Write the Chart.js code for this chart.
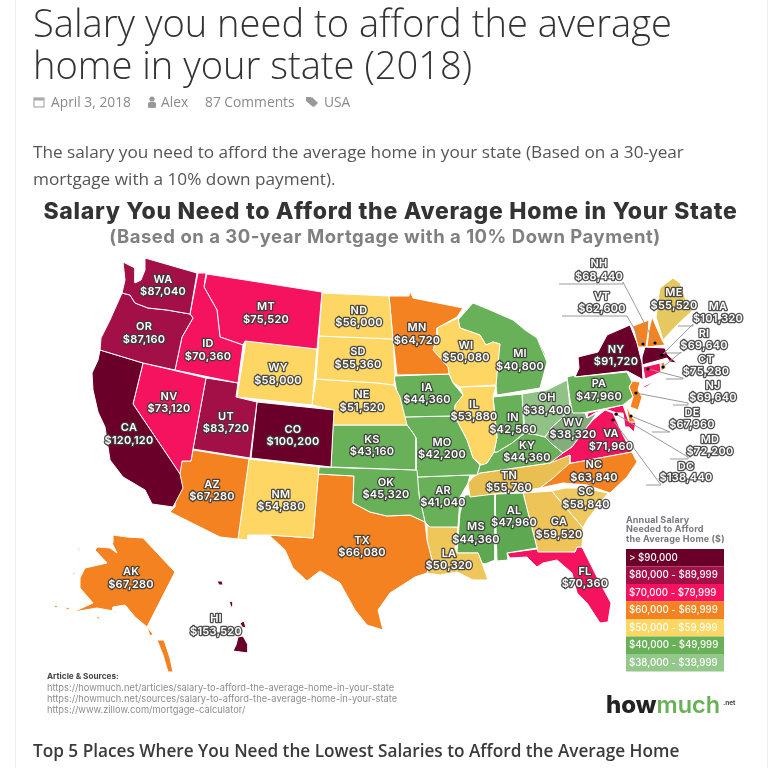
<!DOCTYPE html>
<html>
<head>
<meta charset="utf-8">
<title>Salary you need to afford the average home in your state (2018)</title>
<script src="https://cdn.jsdelivr.net/npm/chart.js@4"></script>
<style>
  html, body { margin: 0; background: #fff; }
  #page { position: relative; width: 782px; height: 768px; overflow: hidden; font-family: "Open Sans", sans-serif; }
  #page::before { content: ""; position: absolute; left: 15px; right: 14px; top: 0; bottom: 0; border-left: 1px solid #f0f0f0; border-right: 1px solid #f0f0f0; }
  canvas { position: absolute; left: 0; top: 0; }
  .txt { position: absolute; white-space: nowrap; }
  h1 { margin: 0; left: 33px; top: 1px; font-weight: 300; font-size: 38.1px; line-height: 42px; color: #333; }
  .meta { top: 93px; font-size: 13.8px; line-height: 18px; color: #8a8a8a; }
  .icon { top: 96px; }
  #intro { left: 33px; top: 138px; font-size: 17.2px; line-height: 27px; color: #555; }
  h2 { margin: 0; left: 33px; top: 739px; font-weight: 600; font-size: 17.2px; line-height: 24px; color: #3a3a3a; }
</style>
</head>
<body>
<div id="page">
  <canvas id="map" width="782" height="768"></canvas>
  <h1 class="txt">Salary you need to afford the average<br>home in your state (2018)</h1>
  <svg class="txt icon" style="left:33px" width="12" height="12" viewBox="0 0 12 12"><rect x="1" y="2" width="10" height="9" fill="none" stroke="#aaa" stroke-width="1.2"/><rect x="1" y="2" width="10" height="2.5" fill="#aaa"/></svg>
  <span class="txt meta" style="left:51px">April 3, 2018</span>
  <svg class="txt icon" style="left:146px" width="12" height="12" viewBox="0 0 12 12"><circle cx="6" cy="3" r="2.6" fill="#999"/><rect x="2" y="6" width="8" height="6" rx="1.5" fill="#999"/></svg>
  <span class="txt meta" style="left:161px">Alex</span>
  <span class="txt meta" style="left:205px">87 Comments</span>
  <svg class="txt icon" style="left:305px" width="15" height="12" viewBox="0 0 15 12"><path d="M1 1h5l6 6-4 4-7-6z M7 1l6 6-4 4" fill="#999"/></svg>
  <span class="txt meta" style="left:324px">USA</span>
  <div id="intro" class="txt">The salary you need to afford the average home in your state (Based on a 30-year<br>mortgage with a 10% down payment).</div>
  <h2 class="txt">Top 5 Places Where You Need the Lowest Salaries to Afford the Average Home</h2>
</div>
<script>
// salary, same order as the state codes
const stateCodes = ['WA','OR','CA','NV','ID','MT','WY','UT','CO','AZ','NM','ND','SD','NE','KS','OK','TX','MN','IA','MO','AR','LA','WI','IL','MI','IN','OH','KY','TN','MS','AL','GA','SC','NC','VA','WV','PA','NY','FL','AK','HI','ME','NH','VT','MA','RI','CT','NJ','DE','MD','DC'];
const salaries = [87040,87160,120120,73120,70360,75520,58000,83720,100200,67280,54880,56000,55360,51520,43160,45320,66080,64720,44360,42200,41040,50320,50080,53880,40800,42560,38400,44360,55760,44360,47960,59520,58840,63840,71960,38320,47960,91720,70360,67280,153520,55520,68440,62600,101320,69640,75280,69640,67960,72200,138440];

// legend buckets
const bucketLabels = ['> $90,000','$80,000 - $89,999','$70,000 - $79,999','$60,000 - $69,999','$50,000 - $59,999','$40,000 - $49,999','$38,000 - $39,999'];
const bucketFloors = [90000,80000,70000,60000,50000,40000,38000];
const bucketColors = ['#6a0029','#a30f47','#f5125f','#f58220','#fdd663','#68b158','#93c88a'];

// relief makes some states look a bit darker than their bucket
const reliefTints = { ME:'#e6c860', GA:'#eec458', SC:'#eec95f', TN:'#eabf52', LA:'#eec65a', WV:'#83ad7a', OH:'#8fc284', MS:'#5fa852', AL:'#5fa852' };

// state outlines in map units [x, y, x, y, ...]
const outlines = {
  WA:[[145,258,197,273,190,314,167,310,148,308,135,303,130,295,122,293,125,280,123,262,135,268,135,283,141,280,145,270]],
  OR:[[122,293,130,295,135,303,148,308,167,310,190,314,193,318,182,337,175,370,143,363,100,350,101,338,110,320]],
  CA:[[100,350,143,363,133,404,180,474,183,488,173,507,152,504,145,490,123,477,110,460,105,427,98,412,93,390,92,373,98,360]],
  NV:[[143,363,206,378,193,449,191,461,182,461,180,474,133,404]],
  ID:[[198,273,206,273,204,287,217,310,220,337,243,345,238,383,175,370,182,337,193,318,190,314]],
  MT:[[207,274,322,292,317,349,245,341,243,345,220,337,217,310,204,287]],
  WY:[[246,341,317,349,312,405,237,397]],
  UT:[[206,378,238,383,236,397,257,402,250,458,193,449]],
  CO:[[257,402,334,410,331,467,251,458]],
  AZ:[[193,450,249,459,238,539,220,537,170,512,175,507,176,490,182,461,191,461]],
  NM:[[249,459,319,467,313,538,269,535,248,535,248,540,238,539]],
  ND:[[322,293,389,296,393,339,319,336]],
  SD:[[319,336,393,339,395,375,394,385,378,383,316,379]],
  NE:[[316,379,378,383,394,385,400,397,407,425,333,425,334,410,312,405]],
  KS:[[333,425,407,425,413,433,416,438,416,470,331,467]],
  OK:[[319,467,417,470,419,495,425,522,410,515,387,516,370,512,353,503,354,476,318,474]],
  TX:[[318,474,354,476,353,503,370,512,387,516,410,515,425,522,427,540,432,560,427,573,415,577,390,593,378,610,383,630,367,625,355,610,340,583,320,571,307,581,293,568,285,550,269,535,313,538]],
  MN:[[389,296,409,296,410,291,413,298,433,302,463,308,457,317,437,328,437,338,433,350,448,367,449,374,397,375,393,339]],
  IA:[[394,376,449,374,453,383,463,395,455,405,454,413,450,416,403,417,398,398]],
  MO:[[403,417,450,416,455,417,467,440,473,458,480,465,477,475,470,475,418,477,416,470,416,438,413,433,407,425]],
  AR:[[417,477,470,475,468,483,460,497,458,527,430,527,425,522,419,495]],
  LA:[[427,526,458,527,455,547,457,553,478,553,482,563,488,580,473,580,457,572,440,575,427,573,432,560,427,540]],
  WI:[[437,328,458,318,460,328,480,335,486,345,493,342,500,344,496,385,460,387,453,383,449,374,448,367,433,350,437,338]],
  IL:[[460,387,496,386,493,397,497,437,494,452,487,463,482,465,473,458,467,440,455,417,454,413,455,405,463,395]],
  MI:[[458,320,473,303,490,310,513,320,525,330,537,338,547,362,540,388,497,395,496,385,497,352,500,344,493,342,486,345,480,335,460,328]],
  IN:[[493,397,522,394,524,433,512,443,497,452,494,452,497,437]],
  OH:[[522,394,540,391,547,390,567,380,570,407,562,418,552,427,545,437,538,435,525,433]],
  KY:[[480,465,487,463,494,452,497,452,512,443,525,433,538,435,545,437,553,445,563,453,550,463,480,473,477,475]],
  TN:[[473,477,480,473,550,463,570,455,570,463,553,478,540,488,527,490,470,497,468,483]],
  MS:[[465,495,495,494,495,560,485,564,482,563,478,553,457,553,460,513]],
  AL:[[495,494,523,493,537,548,507,553,508,560,497,561]],
  GA:[[523,493,552,491,555,495,583,528,582,547,577,547,575,552,538,552]],
  SC:[[552,491,565,488,583,488,608,493,587,520,583,528,555,495]],
  NC:[[567,464,632,452,637,462,627,477,610,493,587,485,563,483,540,488,553,478]],
  VA:[[547,463,563,453,572,447,587,427,593,420,605,410,613,413,623,435,632,452,567,464]],
  WV:[[570,407,573,413,585,413,587,418,597,413,587,427,572,447,563,453,553,445,545,437,552,427,562,418]],
  PA:[[567,377,575,375,575,377,627,372,632,382,629,387,633,397,623,405,573,415,570,400]],
  NY:[[578,357,598,352,607,335,630,325,637,343,642,363,643,380,640,378,627,371,575,377,579,368],[642,387,655,381,646,387]],
  FL:[[507,553,537,549,575,552,577,547,582,547,597,577,611,603,608,622,600,623,587,603,577,593,572,573,557,560,543,563,537,567,527,557,510,558]],
  AK:[[113,535,127,537,143,538,175,572,147,627,135,617,125,605,113,607,113,612,125,613,108,610,97,608,73,612,93,603,80,588,80,578,85,568,107,563,95,550,98,547,110,548,117,553,112,543],[147,627,153,634,150,636],[157,640,164,640,170,658,173,672,168,672,163,655],[77,546,80,550,79,552],[72,572,75,573,74,575],[53,605,58,606,56,608],[64,607,70,608,68,610],[95,616,102,618,98,619]],
  HI:[[217,581,222,581,223,585,219,585],[229,601,233,602,233,607,231,607],[240,623,244,621,246,628,242,627],[238,637,243,636,248,645,248,653,233,651,236,645]],
  ME:[[658,300,660,288,673,278,680,283,687,303,693,310,677,325,663,340,656,317]],
  NH:[[652,317,662,340,665,345,647,347,649,330]],
  VT:[[633,326,649,320,648,333,646,347,638,347]],
  MA:[[642,357,645,347,665,348,668,355,677,363,670,362,667,358,642,365]],
  RI:[[661,363,664,362,666,368,661,371]],
  CT:[[643,367,660,363,661,372,645,379]],
  NJ:[[632,381,640,382,638,390,642,397,638,410,630,407,633,397,629,387]],
  DE:[[626,405,632,417,636,422,629,422]],
  MD:[[588,413,623,405,629,422,636,422,634,432,629,427,625,427,623,413,617,413,605,409,595,413,587,418]],
  DC:[[615,412,619,412,619,416,615,416]]
};

// darker relief areas: colour, outline
const shadeColors = ['#4f9a48','#d9b55a','#d96f18'];
const shadeParts = [
  [458,320,473,303,490,310,513,320,525,330,537,338,545,355,525,345,510,340,500,344,493,342,486,345,480,335,460,328],
  [489,346,500,344,496,385,488,385,492,365],
  [540,488,553,478,567,464,585,461,565,475]
];

// centre of each label, y of first line, y of second line
const labelSpots = {
  WA:[163,280,292],OR:[144,327,340],CA:[129,428,441],NV:[169,397,409],ID:[208,344,357],MT:[266,307,320],WY:[278,368,381],UT:[226,417,429],CO:[293,430,442],AZ:[212,485,497],NM:[281,495,507],ND:[359,311,323],SD:[358,352,365],NE:[362,395,408],KS:[372,440,452],OK:[386,483,495],TX:[362,541,553],MN:[417,328,341],IA:[427,388,400],MO:[442,443,455],AR:[443,491,503],LA:[449,554,566],WI:[466,346,358],IL:[474,405,417],MI:[520,354,367],IN:[513,418,430],OH:[547,398,411],KY:[527,446,458],TN:[509,476,488],MS:[476,527,540],AL:[514,511,523],GA:[559,522,535],SC:[586,492,505],NC:[594,465,478],VA:[611,434,447],WV:[573,423,435],PA:[599,384,397],NY:[616,350,362],FL:[585,572,584],AK:[131,572,585],HI:[216,619,632],ME:[674,293,306],
  NH:[599,264,277],VT:[602,297,309],MA:[718,307,319],RI:[704,334,346],CT:[706,360,372],NJ:[713,386,398],DE:[692,413,425],MD:[710,440,452],DC:[686,467,478]
};

// callout leaders for the small states: start x, y, end x, y
const leaders = {
  NH:[623,282,648,330,655,343],VT:[627,316,643,344],MA:[693,324,662,355],RI:[681,352,663,367],CT:[683,378,648,369],NJ:[688,403,636,393],DE:[670,432,631,416],MD:[688,457,616,414],DC:[661,485,613,420]
};

const sourceLines = ['https://howmuch.net/articles/salary-to-afford-the-average-home-in-your-state','https://howmuch.net/sources/salary-to-afford-the-average-home-in-your-state','https://www.zillow.com/mortgage-calculator/'];
const legendTitle = ['Annual Salary','Needed to Afford','the Average Home ($)'];

function colorFor(salary) {
  const i = bucketFloors.findIndex(f => salary >= f);
  return bucketColors[i];
}
function toPoints(flat) {
  const pts = [];
  for (let i = 0; i < flat.length; i += 2) pts.push({ x: flat[i], y: flat[i + 1] });
  pts.push({ x: flat[0], y: flat[1] }); // close it
  return pts;
}

// one filled line dataset per state piece
const datasets = [];
function addShape(label, part, color, border) {
  datasets.push({
    label,
    data: toPoints(part),
    showLine: true,
    fill: 'shape',
    backgroundColor: color,
    borderColor: border,
    borderWidth: 1,
    pointRadius: 0,
    tension: 0,
    clip: false
  });
}
stateCodes.forEach((code, i) => {
  outlines[code].forEach(part => addShape(code, part, reliefTints[code] || colorFor(salaries[i]), '#fff'));
});
shadeParts.forEach((part, i) => addShape('relief', part, shadeColors[i], 'transparent'));

function money(v) { return '$' + v.toLocaleString('en-US'); }

const mapText = {
  id: 'mapText',
  afterDatasetsDraw(chart) {
    const { ctx, scales: { x, y } } = chart;
    const px = v => x.getPixelForValue(v);
    const py = v => y.getPixelForValue(v);
    ctx.save();
    ctx.textBaseline = 'middle';
    ctx.lineJoin = 'round';

    // titles
    ctx.textAlign = 'center';
    ctx.fillStyle = '#333';
    ctx.font = '800 23px Inter';
    ctx.letterSpacing = '0.7px';
    ctx.fillText('Salary You Need to Afford the Average Home in Your State', px(390.5), py(212));
    ctx.fillStyle = '#808080';
    ctx.font = '700 18.5px Inter';
    ctx.letterSpacing = '0.5px';
    ctx.fillText('(Based on a 30-year Mortgage with a 10% Down Payment)', px(385), py(237));

    // leaders
    Object.keys(leaders).forEach(code => {
      const l = leaders[code];
      const spot = labelSpots[code];
      const w = 44;
      ctx.strokeStyle = '#999';
      ctx.lineWidth = 1;
      ctx.beginPath();
      ctx.moveTo(px(spot[0] - w + 4), py(spot[2] + 7));
      ctx.lineTo(px(l[0]), py(spot[2] + 7));
      for (let i = 0; i < l.length; i += 2) ctx.lineTo(px(l[i]), py(l[i + 1]));
      ctx.stroke();
      ctx.fillStyle = '#000';
      ctx.beginPath();
      ctx.arc(px(l[l.length - 2]), py(l[l.length - 1]), 1.6, 0, Math.PI * 2);
      ctx.fill();
    });

    // state labels
    ctx.font = '600 11px Inter';
    ctx.letterSpacing = '0.25px';
    stateCodes.forEach((code, i) => {
      const s = labelSpots[code];
      [[code, s[1]], [money(salaries[i]), s[2]]].forEach(([t, yy]) => {
        ctx.strokeStyle = 'rgba(60,60,60,0.9)';
        ctx.lineWidth = 2.6;
        ctx.strokeText(t, px(s[0]), py(yy));
        ctx.fillStyle = '#fff';
        ctx.fillText(t, px(s[0]), py(yy));
      });
    });

    // legend
    ctx.textAlign = 'left';
    ctx.fillStyle = '#77777f';
    ctx.font = '700 9px Inter';
    ctx.letterSpacing = '0.15px';
    legendTitle.forEach((t, i) => ctx.fillText(t, px(626), py(520 + i * 9.6)));
    ctx.font = '500 9.7px Inter';
    ctx.letterSpacing = '0px';
    bucketLabels.forEach((t, i) => {
      const top = py(549 + i * 17.5);
      ctx.fillStyle = bucketColors[i];
      ctx.fillRect(px(626), top, px(724) - px(626), py(566.5) - py(549));
      ctx.fillStyle = '#fff';
      ctx.fillText(t, px(629), top + 9);
    });

    // sources
    ctx.fillStyle = '#444';
    ctx.font = '700 8.2px Inter';
    ctx.fillText('Article & Sources:', px(47), py(677));
    ctx.fillStyle = '#8d8d8d';
    ctx.font = '400 9.3px Inter';
    sourceLines.forEach((t, i) => ctx.fillText(t, px(47), py(688.5 + i * 11)));

    // logo
    ctx.font = '800 24px Inter';
    ctx.fillStyle = '#222';
    ctx.fillText('how', px(606), py(706));
    const hw = ctx.measureText('how').width;
    ctx.fillStyle = '#68b158';
    ctx.font = '600 23.5px Inter';
    ctx.fillText('much', px(606) + hw, py(706));
    ctx.fillStyle = '#444';
    ctx.font = '700 6.5px Inter';
    ctx.fillText('.net', px(723), py(703));
    ctx.restore();
  }
};

new Chart(document.getElementById('map'), {
  type: 'scatter',
  data: { datasets },
  options: {
    responsive: false,
    animation: false,
    events: [],
    layout: { padding: 0 },
    plugins: { legend: { display: false }, tooltip: { enabled: false } },
    scales: {
      x: { type: 'linear', display: false, min: 0, max: 782 },
      y: { type: 'linear', display: false, min: 0, max: 768, reverse: true }
    }
  },
  plugins: [mapText]
});
</script>
</body>
</html>
